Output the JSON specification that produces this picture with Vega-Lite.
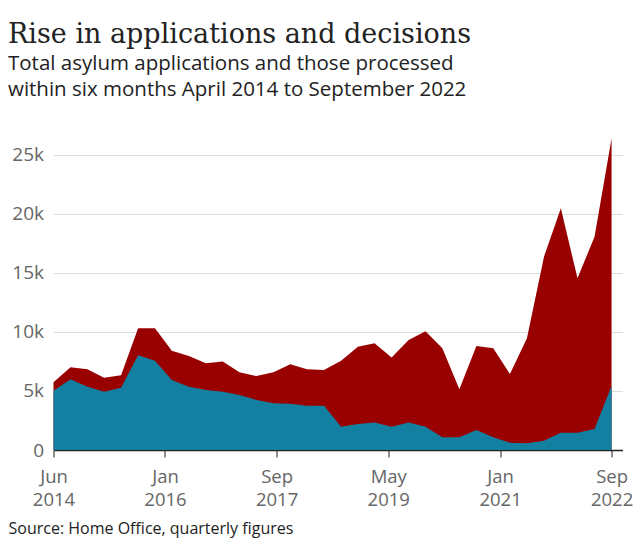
{
  "$schema": "https://vega.github.io/schema/vega-lite/v6.json",
  "autosize": "none",
  "width": 569,
  "height": 313,
  "padding": {"left": 53.5, "top": 137, "right": 17.5, "bottom": 90},
  "background": "white",
  "title": {
    "text": "Rise in applications and decisions",
    "subtitle": ["Total asylum applications and those processed", "within six months April 2014 to September 2022"],
    "anchor": "start",
    "frame": "group",
    "dx": -45.5,
    "offset": 36,
    "font": "DejaVu Serif",
    "fontSize": 27,
    "fontWeight": "normal",
    "color": "#222222",
    "subtitleFont": "Open Sans",
    "subtitleFontSize": 20.5,
    "subtitleColor": "#222222",
    "subtitleLineHeight": 26,
    "subtitlePadding": 5
  },
  "data": {
    "values": [
      {"date": "2014-06-01T00:00:00", "total": 5740, "within": 5030},
      {"date": "2014-09-01T00:00:00", "total": 7010, "within": 5990},
      {"date": "2014-12-01T00:00:00", "total": 6840, "within": 5370},
      {"date": "2015-03-01T00:00:00", "total": 6130, "within": 4940},
      {"date": "2015-06-01T00:00:00", "total": 6330, "within": 5280},
      {"date": "2015-09-01T00:00:00", "total": 10310, "within": 8020},
      {"date": "2015-12-01T00:00:00", "total": 10310, "within": 7570},
      {"date": "2016-03-01T00:00:00", "total": 8420, "within": 5930},
      {"date": "2016-06-01T00:00:00", "total": 7970, "within": 5370},
      {"date": "2016-09-01T00:00:00", "total": 7350, "within": 5090},
      {"date": "2016-12-01T00:00:00", "total": 7510, "within": 4940},
      {"date": "2017-03-01T00:00:00", "total": 6580, "within": 4660},
      {"date": "2017-06-01T00:00:00", "total": 6270, "within": 4240},
      {"date": "2017-09-01T00:00:00", "total": 6580, "within": 3960},
      {"date": "2017-12-01T00:00:00", "total": 7260, "within": 3930},
      {"date": "2018-03-01T00:00:00", "total": 6840, "within": 3760},
      {"date": "2018-06-01T00:00:00", "total": 6780, "within": 3760},
      {"date": "2018-09-01T00:00:00", "total": 7570, "within": 1980},
      {"date": "2018-12-01T00:00:00", "total": 8760, "within": 2200},
      {"date": "2019-03-01T00:00:00", "total": 9040, "within": 2320},
      {"date": "2019-06-01T00:00:00", "total": 7830, "within": 1980},
      {"date": "2019-09-01T00:00:00", "total": 9320, "within": 2320},
      {"date": "2019-12-01T00:00:00", "total": 10060, "within": 1980},
      {"date": "2020-03-01T00:00:00", "total": 8620, "within": 1070},
      {"date": "2020-06-01T00:00:00", "total": 5140, "within": 1070},
      {"date": "2020-09-01T00:00:00", "total": 8810, "within": 1700},
      {"date": "2020-12-01T00:00:00", "total": 8620, "within": 1070},
      {"date": "2021-03-01T00:00:00", "total": 6440, "within": 620},
      {"date": "2021-06-01T00:00:00", "total": 9460, "within": 570},
      {"date": "2021-09-01T00:00:00", "total": 16380, "within": 790},
      {"date": "2021-12-01T00:00:00", "total": 20480, "within": 1470},
      {"date": "2022-03-01T00:00:00", "total": 14550, "within": 1470},
      {"date": "2022-06-01T00:00:00", "total": 18080, "within": 1780},
      {"date": "2022-09-01T00:00:00", "total": 26410, "within": 5420}
    ]
  },
  "encoding": {
    "x": {
      "field": "date",
      "type": "temporal",
      "scale": {"domain": [{"year": 2014, "month": 6, "date": 1}, {"year": 2022, "month": 10, "date": 30}]},
      "axis": {
        "values": [
          {"year": 2014, "month": 6, "date": 1},
          {"year": 2016, "month": 1, "date": 24},
          {"year": 2017, "month": 9, "date": 18},
          {"year": 2019, "month": 5, "date": 14},
          {"year": 2021, "month": 1, "date": 7},
          {"year": 2022, "month": 9, "date": 1}
        ],
        "labelExpr": "[timeFormat(datum.value, '%b'), timeFormat(datum.value, '%Y')]",
        "grid": false,
        "domainColor": "#222222",
        "domainWidth": 1.5,
        "tickColor": "#222222",
        "tickSize": 7,
        "tickWidth": 1,
        "labelFont": "Open Sans",
        "labelFontSize": 18.5,
        "labelColor": "#666666",
        "labelLineHeight": 23,
        "labelPadding": 10,
        "labelOverlap": false,
        "labelFlush": false,
        "title": "Source: Home Office, quarterly figures",
        "titleFont": "Open Sans",
        "titleFontSize": 16,
        "titleFontWeight": "normal",
        "titleColor": "#222222",
        "titleAnchor": "start",
        "titleAlign": "left",
        "titleBaseline": "alphabetic",
        "titleX": -45.5,
        "titleY": 83
      }
    }
  },
  "layer": [
    {
      "mark": {"type": "area", "color": "#990000", "interpolate": "linear"},
      "encoding": {
        "y": {
          "field": "total",
          "type": "quantitative",
          "scale": {"domain": [0, 26525], "nice": false},
          "axis": {
            "values": [0, 5000, 10000, 15000, 20000, 25000],
            "labelExpr": "datum.value == 0 ? '0' : (datum.value / 1000) + 'k'",
            "domain": false,
            "ticks": false,
            "grid": true,
            "gridColor": "#dddddd",
            "gridWidth": 1,
            "labelFont": "Open Sans",
            "labelFontSize": 19,
            "labelColor": "#666666",
            "labelPadding": 10,
            "title": null
          }
        }
      }
    },
    {
      "mark": {"type": "area", "color": "#1380A1", "interpolate": "linear"},
      "encoding": {
        "y": {"field": "within", "type": "quantitative"}
      }
    }
  ],
  "config": {
    "view": {"stroke": null}
  }
}
